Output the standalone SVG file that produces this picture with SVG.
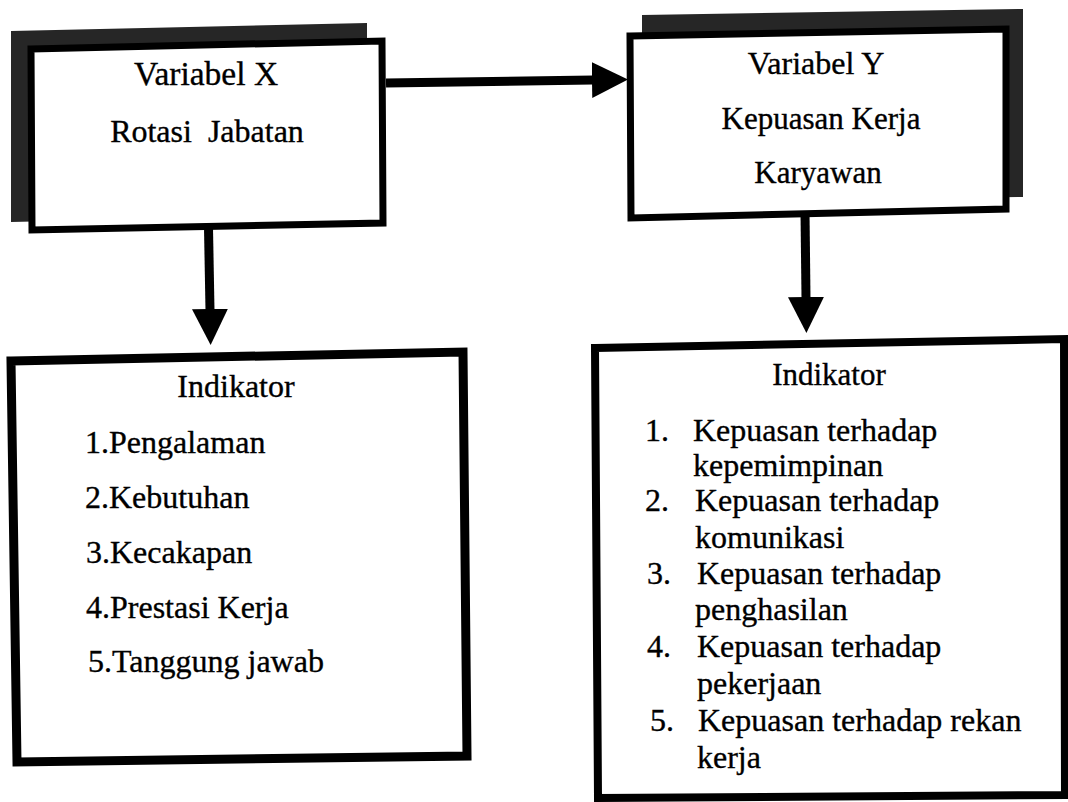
<svg xmlns="http://www.w3.org/2000/svg" width="1068" height="802" viewBox="0 0 1068 802">
<style>
  .bg { fill: #ffffff; }
  .box { fill: #ffffff; stroke: #000000; stroke-linejoin: miter; }
  .shadow { fill: #262626; }
  .t { font-family: "Liberation Serif", "Times New Roman", serif; fill: #000000; stroke: #000000; stroke-width: 0.35px; }
  .title { font-size: 32px; text-anchor: middle; }
  .item { font-size: 32px; }
  .conn { stroke: #000000; stroke-width: 9; fill: none; marker-end: url(#head); }
</style>
<defs>
  <marker id="head" viewBox="0 0 36 36" markerUnits="userSpaceOnUse" markerWidth="36" markerHeight="36" refX="1" refY="18" orient="auto">
    <path d="M0,0 L36,18 L0,36 Z" fill="#000000"/>
  </marker>
</defs>
<rect class="bg" x="0" y="0" width="1068" height="802"/>

<g id="node-variabel-x">
  <polygon class="shadow" points="11,31 367,23 367,214 11,222"/>
  <polygon class="box" stroke-width="7" points="31,49 382,41 383,223 32,230"/>
  <text class="t title" x="206" y="85" style="font-size:33.5px">Variabel X</text>
  <text class="t title" x="207" y="142" xml:space="preserve">Rotasi  Jabatan</text>
</g>

<g id="node-variabel-y">
  <polygon class="shadow" points="642,15 1023,9 1023,197 642,203"/>
  <polygon class="box" stroke-width="7" points="630,36 1006,29 1006,209 631,218"/>
  <text class="t title" x="816" y="74" style="font-size:32px">Variabel Y</text>
  <text class="t title" x="821" y="129" style="font-size:31px">Kepuasan Kerja</text>
  <text class="t title" x="818" y="183" style="font-size:31px">Karyawan</text>
</g>

<g id="node-indikator-x">
  <polygon class="box" stroke-width="9" points="11,361 463,352 467,756 17,762"/>
  <text class="t title" x="236" y="397">Indikator</text>
  <text class="t item" x="85" y="453">1.Pengalaman</text>
  <text class="t item" x="85" y="508">2.Kebutuhan</text>
  <text class="t item" x="86" y="563">3.Kecakapan</text>
  <text class="t item" x="86" y="618">4.Prestasi Kerja</text>
  <text class="t item" x="88" y="672">5.Tanggung jawab</text>
</g>

<g id="node-indikator-y">
  <polygon class="box" stroke-width="8" points="595,348 1064,339 1065,795 598,798"/>
  <text class="t title" x="829" y="385" style="font-size:31px">Indikator</text>
  <text class="t item" x="645" y="441">1.</text>
  <text class="t item" x="693" y="441">Kepuasan terhadap</text>
  <text class="t item" x="693" y="476">kepemimpinan</text>
  <text class="t item" x="645" y="511">2.</text>
  <text class="t item" x="695" y="511">Kepuasan terhadap</text>
  <text class="t item" x="695" y="548">komunikasi</text>
  <text class="t item" x="647" y="584">3.</text>
  <text class="t item" x="697" y="584">Kepuasan terhadap</text>
  <text class="t item" x="695" y="620">penghasilan</text>
  <text class="t item" x="647" y="657">4.</text>
  <text class="t item" x="697" y="657">Kepuasan terhadap</text>
  <text class="t item" x="697" y="694">pekerjaan</text>
  <text class="t item" x="650" y="731">5.</text>
  <text class="t item" x="698" y="731">Kepuasan terhadap rekan</text>
  <text class="t item" x="697" y="768">kerja</text>
</g>

<g id="connectors">
  <line class="conn" x1="386" y1="83" x2="593" y2="80"/>
  <line class="conn" x1="208.5" y1="228" x2="210" y2="310"/>
  <line class="conn" x1="805" y1="212" x2="806" y2="298"/>
</g>
</svg>
